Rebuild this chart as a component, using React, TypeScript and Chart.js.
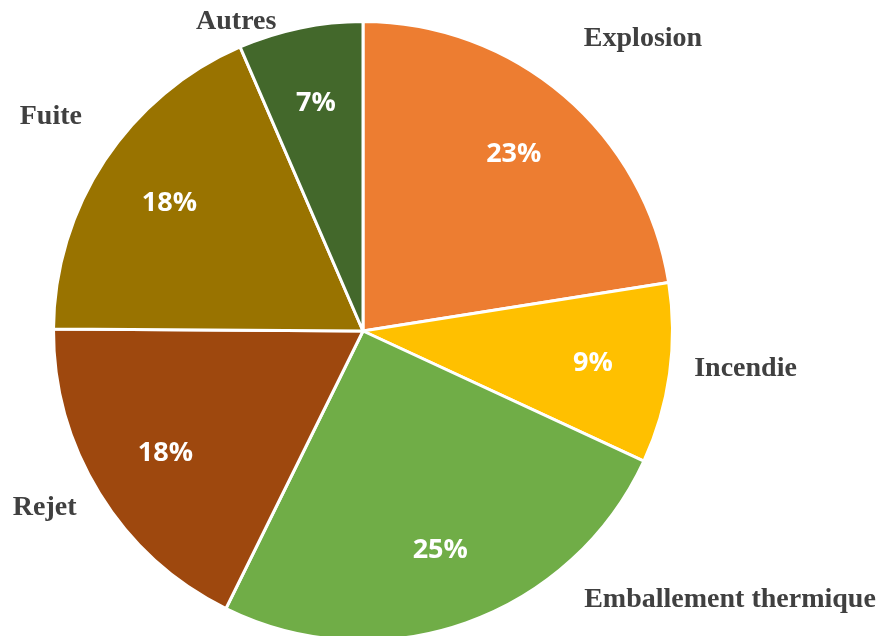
import React, { useEffect, useRef } from "react";
import { Chart, registerables } from "chart.js";

Chart.register(...registerables);

const categories = ["Explosion", "Incendie", "Emballement thermique", "Rejet", "Fuite", "Autres"];
const shares = [22.5, 9.4, 25.4, 17.8, 18.4, 6.5];
const sliceColors = ["#ED7D31", "#FFC000", "#70AD47", "#9E480E", "#997300", "#43682B"];
// offsets of category text from the slice's outer mid-point (px)
const labelOffsets: [number, number][] = [
  [79, -57],
  [76, -5],
  [264, -23],
  [-55, 14],
  [-54, -43],
  [-64, -6],
];

const labelPlugin = {
  id: "pieLabels",
  afterDatasetsDraw(chart: any) {
    const ctx = chart.ctx;
    const meta = chart.getDatasetMeta(0);
    ctx.save();
    ctx.textAlign = "center";
    ctx.textBaseline = "middle";
    meta.data.forEach((arc: any, i: number) => {
      const { x, y, startAngle, endAngle, outerRadius } = arc.getProps(
        ["x", "y", "startAngle", "endAngle", "outerRadius"],
        true
      );
      const mid = (startAngle + endAngle) / 2;
      const r = outerRadius;
      // percentage inside
      ctx.fillStyle = "#FFFFFF";
      ctx.font = "bold 27px 'Open Sans', sans-serif";
      const pr = r * 0.75;
      ctx.fillText(Math.round(shares[i]) + "%", x + Math.cos(mid) * pr, y + Math.sin(mid) * pr);
      // category outside
      ctx.fillStyle = "#404040";
      ctx.font = "bold 28px 'Liberation Serif', 'Times New Roman', serif";
      const ox = x + Math.cos(mid) * r + labelOffsets[i][0];
      const oy = y + Math.sin(mid) * r + labelOffsets[i][1];
      ctx.fillText(categories[i], ox, oy);
    });
    ctx.restore();
  },
};

export default function App() {
  const ref = useRef<HTMLCanvasElement | null>(null);
  useEffect(() => {
    if (!ref.current) return;
    const chart = new Chart(ref.current, {
      type: "pie",
      data: {
        labels: categories,
        datasets: [
          {
            data: shares,
            backgroundColor: sliceColors,
            borderColor: "#FFFFFF",
            borderWidth: 3,
          },
        ],
      },
      options: {
        responsive: false,
        animation: false,
        layout: { padding: { left: 52, right: 205, top: 20, bottom: 18 } },
        plugins: {
          legend: { display: false },
          tooltip: { enabled: false },
        },
      },
      plugins: [labelPlugin],
    });
    return () => chart.destroy();
  }, []);
  return (
    <div
      style={{
        position: "fixed",
        left: 0,
        top: 0,
        width: 879,
        height: 636,
        overflow: "hidden",
        background: "#FFFFFF",
      }}
    >
      <canvas ref={ref} width={879} height={660} style={{ display: "block" }} />
    </div>
  );
}
